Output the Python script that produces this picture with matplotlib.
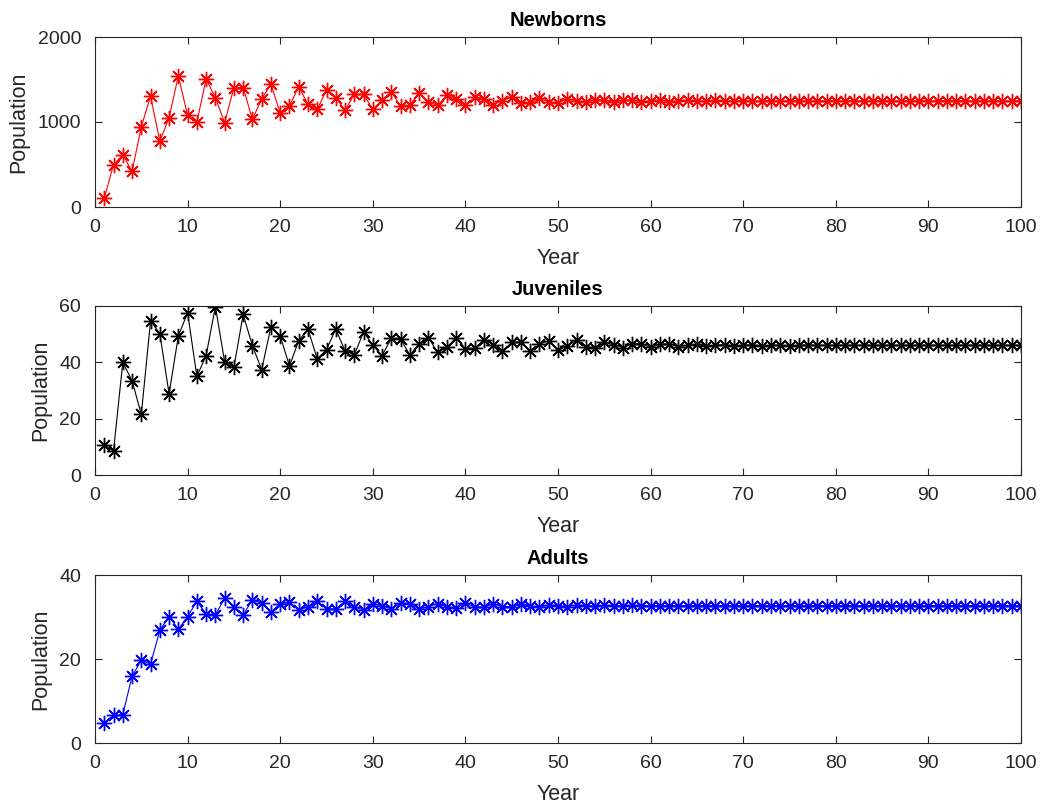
'''
Three stacked panels: newborn, juvenile and adult population over 100 years
'''

import numpy as np
import matplotlib.pyplot as plt

plt.rcParams['font.family'] = ['Liberation Sans', 'DejaVu Sans']

years = list(range(1, 101))

newborns = [
    103, 497, 615, 418, 943, 1305, 773, 1050, 1542, 1077,
    998, 1503, 1286, 990, 1405, 1405, 1030, 1274, 1444, 1109,
    1190, 1416, 1207, 1148, 1377, 1286, 1136, 1325, 1325, 1148,
    1258, 1353, 1187, 1195, 1345, 1234, 1195, 1314, 1266, 1195,
    1290, 1275, 1205, 1250, 1295, 1225, 1230, 1280, 1235, 1225,
    1270, 1250, 1230, 1262, 1258, 1232, 1255, 1260, 1238, 1250,
    1258, 1240, 1248, 1256, 1242, 1247, 1254, 1244, 1247, 1252,
    1245, 1248, 1251, 1246, 1248, 1250, 1246, 1248, 1250, 1247,
    1248, 1249, 1247, 1248, 1249, 1248, 1248, 1249, 1248, 1248,
    1248, 1248, 1248, 1248, 1248, 1248, 1248, 1248, 1248, 1248,
]

juveniles = [
    10.6, 8.5, 40.0, 33.5, 21.5, 54.7, 50.2, 28.8, 49.4, 57.6,
    35.0, 42.4, 59.8, 40.2, 38.2, 57.0, 45.9, 37.4, 52.6, 49.4,
    38.7, 47.7, 51.8, 41.2, 44.5, 51.8, 44.1, 42.6, 50.8, 46.1,
    42.4, 48.5, 48.3, 42.6, 46.5, 48.8, 43.5, 45.3, 48.8, 44.9,
    45.0, 48.0, 46.2, 43.9, 47.1, 47.1, 43.9, 46.4, 47.7, 44.3,
    45.7, 47.9, 45.5, 45.2, 47.1, 46.2, 45.2, 46.6, 46.6, 45.3,
    46.4, 46.5, 45.6, 46.1, 46.4, 45.7, 46.0, 46.3, 45.8, 46.0,
    46.2, 45.9, 46.0, 46.1, 45.9, 46.0, 46.1, 46.0, 46.0, 46.0,
    46.0, 46.0, 46.0, 46.0, 46.0, 46.0, 46.0, 46.0, 46.0, 46.0,
    46.0, 46.0, 46.0, 46.0, 46.0, 46.0, 46.0, 46.0, 46.0, 46.0,
]

adults = [
    4.8, 6.6, 6.7, 15.9, 19.7, 18.8, 26.8, 30.1, 27.1, 30.1,
    33.7, 30.8, 30.5, 34.5, 32.4, 30.5, 34.1, 33.3, 31.1, 33.2,
    33.5, 31.6, 32.5, 33.7, 31.9, 31.9, 33.7, 32.5, 31.6, 33.2,
    32.7, 31.9, 33.3, 33.2, 31.9, 32.5, 33.2, 32.4, 32.2, 33.3,
    32.4, 32.3, 33.1, 32.5, 32.4, 33.0, 32.6, 32.4, 32.9, 32.7,
    32.5, 32.8, 32.7, 32.6, 32.8, 32.7, 32.6, 32.8, 32.7, 32.7,
    32.7, 32.7, 32.7, 32.7, 32.7, 32.7, 32.7, 32.7, 32.7, 32.7,
    32.7, 32.7, 32.7, 32.7, 32.7, 32.7, 32.7, 32.7, 32.7, 32.7,
    32.7, 32.7, 32.7, 32.7, 32.7, 32.7, 32.7, 32.7, 32.7, 32.7,
    32.7, 32.7, 32.7, 32.7, 32.7, 32.7, 32.7, 32.7, 32.7, 32.7,
]

panels = [
    ('Newborns', newborns, 'red', [0, 2000], [0, 1000, 2000]),
    ('Juveniles', juveniles, 'black', [0, 60], [0, 20, 40, 60]),
    ('Adults', adults, 'blue', [0, 40], [0, 20, 40]),
]

W, H = 1043, 808
fig = plt.figure(figsize=(W / 100, H / 100), dpi=100)

boxes = [(37, 207), (306, 475), (575, 743)]
left, right = 95, 1021
edge = '#262626'

for (title, values, color, ylim, yticks), (top, bottom) in zip(panels, boxes):
    ax = fig.add_axes([left / W, 1 - bottom / H, (right - left) / W, (bottom - top) / H])
    ax.plot(years, values, color=color, linewidth=0.8,
            marker=(8, 2, 0), markersize=11, markeredgewidth=1.0)
    ax.set_xlim(0, 100)
    ax.set_ylim(*ylim)
    ax.set_xticks(range(0, 101, 10))
    ax.set_yticks(yticks)
    ax.tick_params(direction='in', top=True, right=True, length=5,
                   width=0.8, labelsize=14, colors=edge)
    ax.tick_params(axis='x', pad=9)
    ax.tick_params(axis='y', pad=10)
    for s in ax.spines.values():
        s.set_color(edge)
        s.set_linewidth(0.8)
    ax.set_title(title, fontsize=14.5, fontweight='bold', pad=8)
    ax.set_xlabel('Year', fontsize=15.5, color=edge, labelpad=8)
    ax.set_ylabel('Population', fontsize=15.5, color=edge, labelpad=6)

fig.savefig('out.png', dpi=100, facecolor='white')
